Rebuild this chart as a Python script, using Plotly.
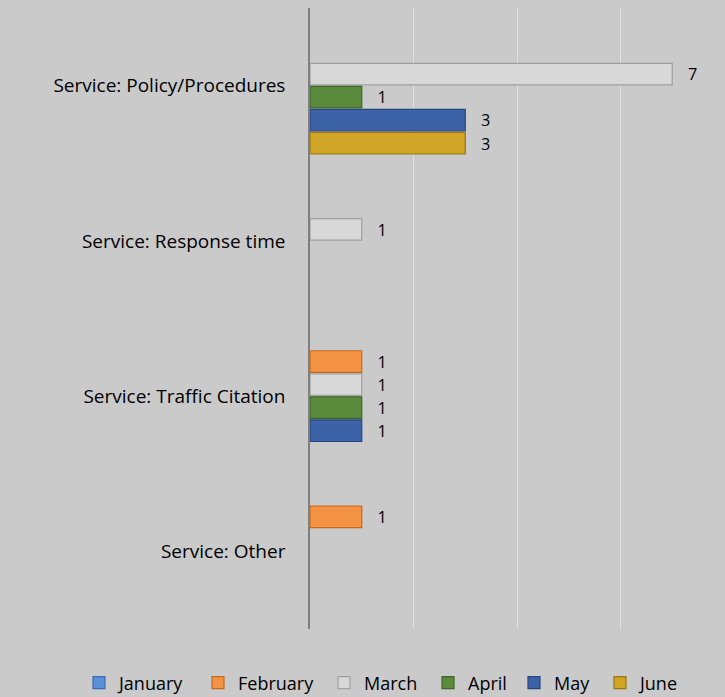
import plotly.graph_objects as go

categories = ["Service: Policy/Procedures", "Service: Response time",
              "Service: Traffic Citation", "Service: Other"]
months = ["January", "February", "March", "April", "May", "June"]
january = [None, None, None, None]
february = [None, None, 1, 1]
march = [7, 1, 1, None]
april = [1, None, 1, None]
may = [3, None, 1, None]
june = [3, None, None, None]

series = [january, february, march, april, may, june]
fills = ["#5b8fd8", "#f39343", "#d8d8d8", "#5a8a3c", "#3c63a8", "#d1a526"]
edges = ["#3a6bb0", "#c46a20", "#a0a0a0", "#3e6528", "#274580", "#9a7612"]
legend_left = [95, 214, 340, 444, 530, 616]  # symbol left edges in px
FONT = "Open Sans"
FS = 18

fig = go.Figure()
legend_names = ["legend"] + ["legend%d" % i for i in range(2, 7)]
for name, vals, c, e, lg in zip(months, series, fills, edges, legend_names):
    fig.add_trace(go.Bar(
        name=name, y=categories, x=vals, orientation="h", legend=lg,
        marker=dict(color=c, line=dict(color=e, width=1.2)),
        text=[("   " + str(v)) if v else "" for v in vals],
        textposition="outside", cliponaxis=False, showlegend=True,
        textfont=dict(family=FONT, size=FS, color="#000000"),
        hoverinfo="skip",
    ))

layout_legends = {}
for lg, px in zip(legend_names, legend_left):
    layout_legends[lg] = dict(
        orientation="h", xref="container", yref="container",
        x=(px - 16) / 725, xanchor="left", y=1 - 683 / 697, yanchor="middle",
        font=dict(family=FONT, size=FS, color="#000000"),
        itemwidth=30, bgcolor="rgba(0,0,0,0)")

fig.update_layout(
    width=725, height=697, showlegend=True,
    barmode="group", bargap=0.11, bargroupgap=0.06,
    paper_bgcolor="#cacaca", plot_bgcolor="#cacaca",
    margin=dict(l=310, r=1, t=8, b=68),
    font=dict(family=FONT, size=FS, color="#000000"),
    xaxis=dict(range=[0, 8], dtick=2, showticklabels=False, showgrid=True,
               gridcolor="#e2e2e2", gridwidth=1, zeroline=False, fixedrange=True),
    yaxis=dict(autorange="reversed", showline=True, linecolor="#7f7f7f", linewidth=1.5,
               ticks="", ticklabelstandoff=19, tickfont=dict(family=FONT, size=19)),
    **layout_legends,
)

fig.write_html("out.html", config={"displayModeBar": False},
               post_script="document.body.style.margin='0';")
